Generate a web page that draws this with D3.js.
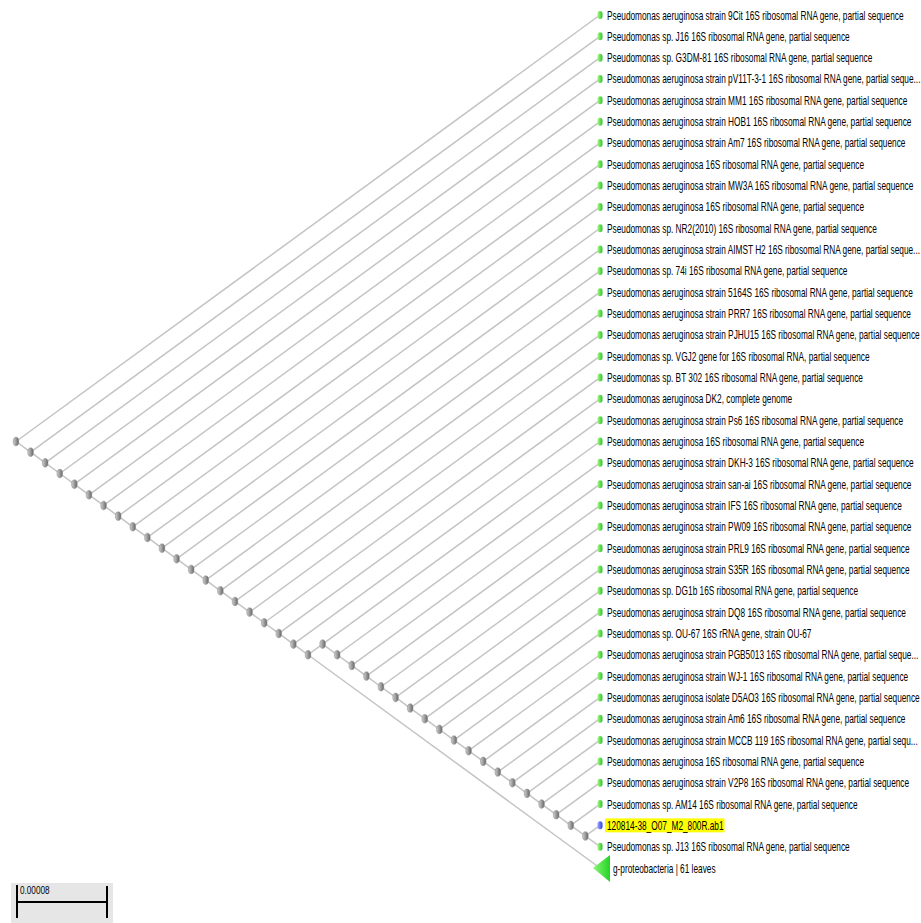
<!DOCTYPE html>
<html>
<head>
<meta charset="utf-8">
<script src="https://cdn.jsdelivr.net/npm/d3@7/dist/d3.min.js"></script>
<style>
  body { margin: 0; background: #fff; }
  svg { display: block; }
  .edge { stroke: #c4c4c4; stroke-width: 1.5; fill: none; }
  .lbl { font-family: "Liberation Sans", Arial, sans-serif; font-size: 12.5px; fill: #000; }
</style>
</head>
<body>
<div id="tree"></div>
<script>
// leaf labels, top to bottom
var leafLabels = [
    "Pseudomonas aeruginosa strain 9Cit 16S ribosomal RNA gene, partial sequence",
    "Pseudomonas sp. J16 16S ribosomal RNA gene, partial sequence",
    "Pseudomonas sp. G3DM-81 16S ribosomal RNA gene, partial sequence",
    "Pseudomonas aeruginosa strain pV11T-3-1 16S ribosomal RNA gene, partial seque...",
    "Pseudomonas aeruginosa strain MM1 16S ribosomal RNA gene, partial sequence",
    "Pseudomonas aeruginosa strain HOB1 16S ribosomal RNA gene, partial sequence",
    "Pseudomonas aeruginosa strain Am7 16S ribosomal RNA gene, partial sequence",
    "Pseudomonas aeruginosa 16S ribosomal RNA gene, partial sequence",
    "Pseudomonas aeruginosa strain MW3A 16S ribosomal RNA gene, partial sequence",
    "Pseudomonas aeruginosa 16S ribosomal RNA gene, partial sequence",
    "Pseudomonas sp. NR2(2010) 16S ribosomal RNA gene, partial sequence",
    "Pseudomonas aeruginosa strain AIMST H2 16S ribosomal RNA gene, partial seque...",
    "Pseudomonas sp. 74i 16S ribosomal RNA gene, partial sequence",
    "Pseudomonas aeruginosa strain 5164S 16S ribosomal RNA gene, partial sequence",
    "Pseudomonas aeruginosa strain PRR7 16S ribosomal RNA gene, partial sequence",
    "Pseudomonas aeruginosa strain PJHU15 16S ribosomal RNA gene, partial sequence",
    "Pseudomonas sp. VGJ2 gene for 16S ribosomal RNA, partial sequence",
    "Pseudomonas sp. BT 302 16S ribosomal RNA gene, partial sequence",
    "Pseudomonas aeruginosa DK2, complete genome",
    "Pseudomonas aeruginosa strain Ps6 16S ribosomal RNA gene, partial sequence",
    "Pseudomonas aeruginosa 16S ribosomal RNA gene, partial sequence",
    "Pseudomonas aeruginosa strain DKH-3 16S ribosomal RNA gene, partial sequence",
    "Pseudomonas aeruginosa strain san-ai 16S ribosomal RNA gene, partial sequence",
    "Pseudomonas aeruginosa strain IFS 16S ribosomal RNA gene, partial sequence",
    "Pseudomonas aeruginosa strain PW09 16S ribosomal RNA gene, partial sequence",
    "Pseudomonas aeruginosa strain PRL9 16S ribosomal RNA gene, partial sequence",
    "Pseudomonas aeruginosa strain S35R 16S ribosomal RNA gene, partial sequence",
    "Pseudomonas sp. DG1b 16S ribosomal RNA gene, partial sequence",
    "Pseudomonas aeruginosa strain DQ8 16S ribosomal RNA gene, partial sequence",
    "Pseudomonas sp. OU-67 16S rRNA gene, strain OU-67",
    "Pseudomonas aeruginosa strain PGB5013 16S ribosomal RNA gene, partial seque...",
    "Pseudomonas aeruginosa strain WJ-1 16S ribosomal RNA gene, partial sequence",
    "Pseudomonas aeruginosa isolate D5AO3 16S ribosomal RNA gene, partial sequence",
    "Pseudomonas aeruginosa strain Am6 16S ribosomal RNA gene, partial sequence",
    "Pseudomonas aeruginosa strain MCCB 119 16S ribosomal RNA gene, partial sequ...",
    "Pseudomonas aeruginosa 16S ribosomal RNA gene, partial sequence",
    "Pseudomonas aeruginosa strain V2P8 16S ribosomal RNA gene, partial sequence",
    "Pseudomonas sp. AM14 16S ribosomal RNA gene, partial sequence",
    "120814-38_O07_M2_800R.ab1",
    "Pseudomonas sp. J13 16S ribosomal RNA gene, partial sequence",
    "g-proteobacteria | 61 leaves"
];

// leaf type: hit / query / collapsed subtree
var queryLeaf = 38;
var collapsedLeaf = 40;

// topology, leaves given by index into leafLabels
var newick =
    "(0,(1,(2,(3,(4,(5,(6,(7,(8,(9,(10,(11,(12,(13,(14,(15,(16,(17,(18,(19," +
    "((20,(21,(22,(23,(24,(25,(26,(27,(28,(29,(30,(31,(32,(33,(34,(35,(36,(37,(38,39" +
    ")))))" + ")))))" + ")))))" + "))))" + ",40)" +
    ")))))" + ")))))" + ")))))" + ")))))";

var scaleBarLabel = "0.00008";

var W = 921, H = 923;

function parseNewick(s) {
    var pos = 0;
    function node() {
        if (s[pos] === "(") {
            pos++;
            var kids = [node()];
            while (s[pos] === ",") { pos++; kids.push(node()); }
            pos++; // ")"
            return { children: kids };
        }
        var start = pos;
        while (pos < s.length && /[0-9]/.test(s[pos])) pos++;
        return { leaf: +s.slice(start, pos) };
    }
    return node();
}

var root = d3.hierarchy(parseNewick(newick));
var nLeaves = root.leaves().length;

var leafX = 600;
var y = d3.scaleLinear().domain([0, nLeaves - 1]).range([15, 868]);
// slanted cladogram: x depends on how many leaf rows a node spans
var xSpan = d3.scaleLinear().domain([0, nLeaves - 1]).range([leafX, 16]);

root.eachAfter(function(d) {
    if (!d.children) {
        d.lo = d.hi = d.data.leaf;
    } else {
        d.lo = d3.min(d.children, function(c) { return c.lo; });
        d.hi = d3.max(d.children, function(c) { return c.hi; });
    }
    d.px = xSpan(d.hi - d.lo);
    d.py = (y(d.lo) + y(d.hi)) / 2;
});

var svg = d3.select("#tree").append("svg")
    .attr("width", W)
    .attr("height", H);

var defs = svg.append("defs");
function grad(id, c1, c2) {
    var g = defs.append("linearGradient").attr("id", id)
        .attr("x1", 0).attr("y1", 0).attr("x2", 1).attr("y2", 0);
    g.append("stop").attr("offset", "0%").attr("stop-color", c1);
    g.append("stop").attr("offset", "100%").attr("stop-color", c2);
}
grad("gNode", "#d0d0d0", "#666");
grad("gLeaf", "#a8f588", "#2fc42a");
grad("gQuery", "#9aa6ff", "#2f3fe0");
grad("gTri", "#8cf57a", "#22d422");

// edges
svg.append("g").selectAll("line")
    .data(root.links())
    .enter().append("line")
    .attr("class", "edge")
    .attr("x1", function(d) { return d.source.px; })
    .attr("y1", function(d) { return d.source.py; })
    .attr("x2", function(d) { return d.target.px; })
    .attr("y2", function(d) { return d.target.py; });

// internal nodes
svg.append("g").selectAll("ellipse")
    .data(root.descendants().filter(function(d) { return d.children; }))
    .enter().append("ellipse")
    .attr("cx", function(d) { return d.px; })
    .attr("cy", function(d) { return d.py; })
    .attr("rx", 2.8)
    .attr("ry", 4.3)
    .attr("fill", "url(#gNode)")
    .attr("stroke", "#858585")
    .attr("stroke-width", 0.5);

var leaves = root.leaves();

// leaf markers
var leafG = svg.append("g");
leafG.selectAll("rect")
    .data(leaves.filter(function(d) { return d.data.leaf !== collapsedLeaf; }))
    .enter().append("rect")
    .attr("x", function(d) { return d.px - 2.5; })
    .attr("y", function(d) { return d.py - 4; })
    .attr("width", 5)
    .attr("height", 8)
    .attr("rx", 2.5)
    .attr("fill", function(d) { return d.data.leaf === queryLeaf ? "url(#gQuery)" : "url(#gLeaf)"; });

leafG.selectAll("path")
    .data(leaves.filter(function(d) { return d.data.leaf === collapsedLeaf; }))
    .enter().append("path")
    .attr("d", function(d) {
        return "M" + (d.px - 7) + "," + d.py + "L" + (d.px + 10) + "," + (d.py - 13) +
            "L" + (d.px + 10) + "," + (d.py + 14) + "Z";
    })
    .attr("fill", "url(#gTri)");

// labels
var labels = svg.append("g").selectAll("g")
    .data(leaves)
    .enter().append("g")
    .attr("transform", function(d) {
        var dx = d.data.leaf === collapsedLeaf ? 13 : 7;
        return "translate(" + (d.px + dx) + "," + (d.py + 4.5) + ")";
    });

labels.append("text")
    .attr("class", "lbl")
    .text(function(d) { return leafLabels[d.data.leaf]; });

// the original font is very condensed - squeeze to match
var refLen = labels.filter(function(d) { return d.data.leaf === 0; }).select("text").node().getComputedTextLength();
var squeeze = 297 / refLen;
labels.select("text").attr("transform", "scale(" + squeeze + ",1)");

// highlight the query sequence
labels.filter(function(d) { return d.data.leaf === queryLeaf; })
    .insert("rect", "text")
    .attr("x", -2)
    .attr("y", -11.5)
    .attr("height", 14)
    .attr("width", function() {
        return this.parentNode.querySelector("text").getComputedTextLength() * squeeze + 3;
    })
    .attr("fill", "#ffff00");

// scale bar
var sb = svg.append("g");
sb.append("rect").attr("x", 11).attr("y", 883).attr("width", 102).attr("height", 40).attr("fill", "#e6e6e6");
sb.append("path")
    .attr("d", "M17,885V918M107,886V918M17,902H107")
    .attr("stroke", "#000")
    .attr("stroke-width", 2)
    .attr("fill", "none");
sb.append("text")
    .attr("font-family", "Liberation Sans, Arial, sans-serif")
    .attr("font-size", 10.5)
    .attr("transform", "translate(20,894) scale(0.78,1)")
    .text(scaleBarLabel);
</script>
</body>
</html>
